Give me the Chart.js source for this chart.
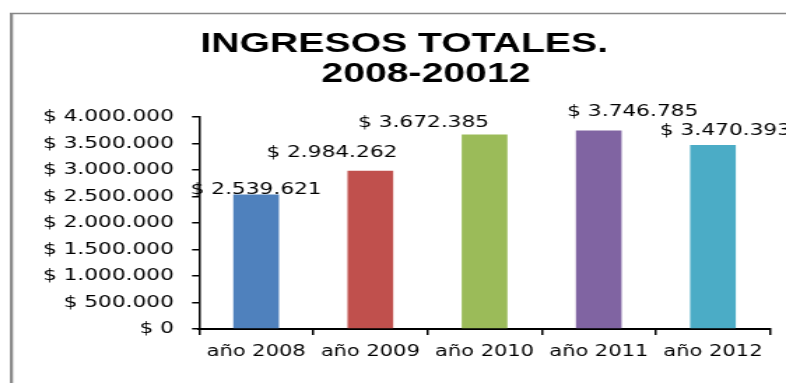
<!DOCTYPE html>
<html>
<head>
<meta charset="utf-8">
<script src="https://cdn.jsdelivr.net/npm/chart.js@4/dist/chart.umd.min.js"></script>
<style>
html,body{margin:0;padding:0;background:#fff;}
#c{display:block;width:786px;height:383px;}
</style>
</head>
<body>
<canvas id="c" width="562" height="383" style="width:786px;height:383px;display:block"></canvas>
<script>
// ---- data ----
const categories = ['año 2008', 'año 2009', 'año 2010', 'año 2011', 'año 2012'];
const values = [2539621, 2984262, 3672385, 3746785, 3470393];
const barColors = ['#4F81BD', '#C0504D', '#9BBB59', '#8064A2', '#4BACC6'];
const titleLines = ['INGRESOS TOTALES.', '    2008-20012'];
const yMin = 0, yMax = 4000000, yStep = 500000;

function fmt(v) {
  return '$ ' + String(Math.round(v)).replace(/\B(?=(\d{3})+(?!\d))/g, '.');
}

const frame = {
  id: 'frame',
  beforeDraw(chart) {
    const ctx = chart.ctx;
    ctx.save();
    ctx.strokeStyle = '#878787';
    ctx.lineWidth = 1.5;
    ctx.beginPath();
    ctx.moveTo(7, 13.5);
    ctx.lineTo(chart.width, 13.5);
    ctx.stroke();
    ctx.lineWidth = 2.2;
    ctx.beginPath();
    ctx.moveTo(8.2, 13);
    ctx.lineTo(8.2, chart.height);
    ctx.stroke();
    ctx.restore();
  }
};

const valueLabels = {
  id: 'valueLabels',
  afterDatasetsDraw(chart, args, opts) {
    const ctx = chart.ctx;
    const meta = chart.getDatasetMeta(0);
    ctx.save();
    ctx.font = '15.5px "DejaVu Sans"';
    ctx.fillStyle = '#000';
    ctx.textAlign = 'center';
    ctx.textBaseline = 'alphabetic';
    meta.data.forEach((bar, i) => {
      const s = (opts.shift && opts.shift[i]) || [0, -8];
      ctx.fillText(fmt(values[i]), bar.x + s[0], bar.y + s[1]);
    });
    ctx.restore();
  }
};

new Chart(document.getElementById('c'), {
  type: 'bar',
  data: {
    labels: categories,
    datasets: [{
      data: values,
      backgroundColor: barColors,
      borderWidth: 0,
      barPercentage: 0.4,
      categoryPercentage: 1.0
    }]
  },
  plugins: [frame, valueLabels],
  options: {
    responsive: false,
    devicePixelRatio: 1,
    animation: false,
    layout: { padding: { left: 27.4, right: 11.4, top: 0, bottom: 0 } },
    plugins: {
      legend: { display: false },
      tooltip: { enabled: false },
      title: {
        display: true,
        text: titleLines,
        color: '#000',
        font: { family: '"Liberation Sans", Arial, sans-serif', size: 28, weight: 'bold', lineHeight: 1.054 },
        padding: { top: 29.75, bottom: 28.25 }
      },
      valueLabels: {
        shift: [[0, 0], [-27.5, -14], [-43.6, -7], [24.3, -14], [8.9, -10]]
      }
    },
    scales: {
      x: {
        afterFit(s) { s.height = 54; },
        grid: { display: true, drawOnChartArea: false, drawTicks: true, tickLength: 6, color: '#000', lineWidth: 1.5, offset: true },
        border: { display: true, color: '#000', width: 2 },
        ticks: {
          color: '#000',
          font: { family: '"DejaVu Sans"', size: 15 },
          padding: 8,
          maxRotation: 0,
          autoSkip: false
        }
      },
      y: {
        min: yMin,
        max: yMax,
        afterFit(s) { s.width = 114.9; },
        grid: { display: true, drawOnChartArea: false, drawTicks: true, tickLength: 5, color: '#000', lineWidth: 1.5 },
        border: { display: true, color: '#000', width: 1.5 },
        ticks: {
          stepSize: yStep,
          color: '#000',
          font: { family: '"DejaVu Sans"', size: 15.5 },
          padding: 13,
          callback: (v) => fmt(v)
        }
      }
    }
  }
});
</script>
</body>
</html>
